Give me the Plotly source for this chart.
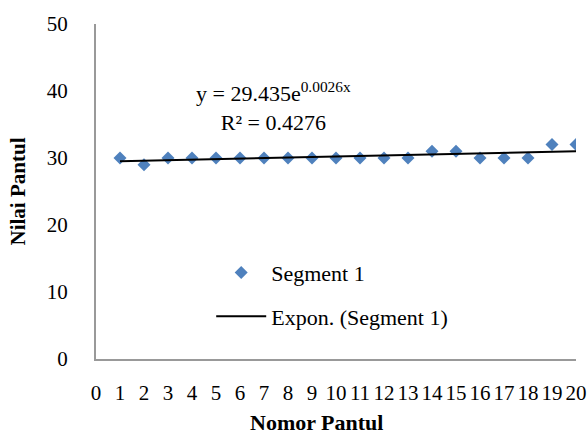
import plotly.graph_objects as go

nomor = list(range(1, 21))
nilai = [30, 29, 30, 30, 30, 30, 30, 30, 30, 30, 30, 30, 30, 31, 31, 30, 30, 30, 32, 32]
trend_x = [1, 20]
trend_y = [29.51, 31.01]
x_ticks = list(range(0, 21))
y_ticks = [0, 10, 20, 30, 40, 50]

serif = "Liberation Serif, Times New Roman, serif"

fig = go.Figure()
fig.add_trace(go.Scatter(
    x=nomor, y=nilai, mode="markers", name="Segment 1",
    marker=dict(symbol="diamond", size=10, color="#4F81BD"),
    legendgroup="a",
))
fig.add_trace(go.Scatter(
    x=trend_x, y=trend_y, mode="lines", name="Expon. (Segment 1)",
    line=dict(color="black", width=2),
    legendgroup="b",
))

fig.add_annotation(
    x=0.369, y=0.755, xref="paper", yref="paper", xanchor="center", yanchor="middle",
    text="y = 29.435e<sup>0.0026x</sup><br>R² = 0.4276",
    showarrow=False, align="center",
    font=dict(family=serif, size=22, color="black"),
)
fig.add_annotation(
    x=0.46, y=-0.19, xref="paper", yref="paper", xanchor="center", yanchor="middle",
    text="<b>Nomor Pantul</b>", showarrow=False,
    font=dict(family=serif, size=22, color="black"),
)

fig.update_layout(
    width=588, height=436,
    margin=dict(l=96, r=12, t=24, b=77),
    paper_bgcolor="white", plot_bgcolor="white",
    font=dict(family=serif, size=21, color="black"),
    showlegend=True,
    legend=dict(
        x=0.24, y=0.32, xanchor="left", yanchor="top", itemwidth=50,
        font=dict(family=serif, size=22, color="black"),
        bgcolor="rgba(0,0,0,0)", tracegroupgap=12,
    ),
    xaxis=dict(
        range=[0, 20], tickmode="array", tickvals=x_ticks,
        ticktext=[str(v) for v in x_ticks],
        showgrid=False, zeroline=False, showline=True, linecolor="#999999", linewidth=2,
        ticks="", ticklabelstandoff=14, automargin=False,
        tickfont=dict(family=serif, size=21),
    ),
    yaxis=dict(
        range=[0, 50], tickmode="array", tickvals=y_ticks,
        showgrid=False, zeroline=False, showline=True, linecolor="#999999", linewidth=2,
        ticks="", ticklabelstandoff=22, automargin=False,
        tickfont=dict(family=serif, size=21),
        title=dict(text="<b>Nilai Pantul</b>", font=dict(family=serif, size=21)),
    ),
)

fig.write_html(
    "out.html",
    config={"displayModeBar": False},
    post_script="document.body.style.margin='0';document.body.style.overflow='hidden';",
)
